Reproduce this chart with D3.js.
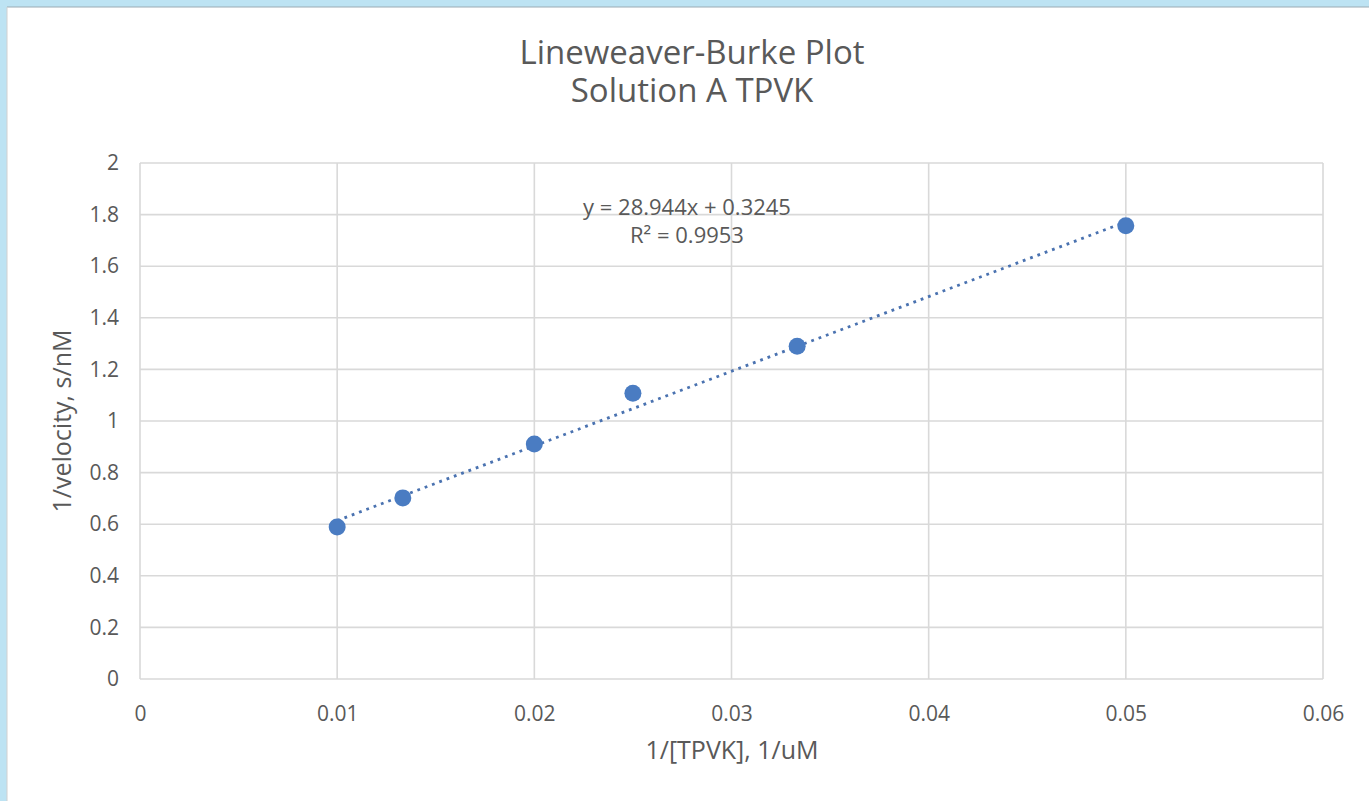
<!DOCTYPE html>
<html>
<head>
<meta charset="utf-8">
<script src="https://cdn.jsdelivr.net/npm/d3@7"></script>
<style>
  html, body { margin: 0; padding: 0; background: #fff; }
  svg { display: block; font-family: "Open Sans", sans-serif; }
</style>
</head>
<body>
<svg id="chart" width="1369" height="801"></svg>
<script>
// data
var xValues = [0.01, 0.01333, 0.02, 0.025, 0.03333, 0.05];
var yValues = [0.589, 0.702, 0.911, 1.108, 1.290, 1.757];
var xTicks = [0, 0.01, 0.02, 0.03, 0.04, 0.05, 0.06];
var yTicks = [0, 0.2, 0.4, 0.6, 0.8, 1, 1.2, 1.4, 1.6, 1.8, 2];
var fitSlope = 28.944;
var fitIntercept = 0.3245;
var fitLabels = ["y = 28.944x + 0.3245", "R² = 0.9953"];
var titleLines = ["Lineweaver-Burke Plot", "Solution A TPVK"];

var svg = d3.select("#chart");
var textColor = "#595959";

// window frame (light blue edge at top and left)
svg.append("rect").attr("x", 0).attr("y", 0).attr("width", 1369).attr("height", 7).attr("fill", "#bde3f3");
svg.append("rect").attr("x", 0).attr("y", 0).attr("width", 7).attr("height", 801).attr("fill", "#bde3f3");
svg.append("line").attr("x1", 7).attr("x2", 1369).attr("y1", 7).attr("y2", 7).attr("stroke", "#9aaab3").attr("stroke-width", 1);
svg.append("line").attr("x1", 7).attr("x2", 7).attr("y1", 7).attr("y2", 801).attr("stroke", "#d0d0d0").attr("stroke-width", 1);

var plotLeft = 140, plotRight = 1323, plotTop = 163, plotBottom = 679;

var x = d3.scaleLinear().domain([0, 0.06]).range([plotLeft, plotRight]);
var y = d3.scaleLinear().domain([0, 2]).range([plotBottom, plotTop]);

// gridlines
svg.append("g").selectAll("line").data(yTicks).enter().append("line")
    .attr("x1", plotLeft).attr("x2", plotRight)
    .attr("y1", function(d) { return y(d); }).attr("y2", function(d) { return y(d); })
    .attr("stroke", "#d9d9d9").attr("stroke-width", 1.6);
svg.append("g").selectAll("line").data(xTicks).enter().append("line")
    .attr("y1", plotTop).attr("y2", plotBottom)
    .attr("x1", function(d) { return x(d); }).attr("x2", function(d) { return x(d); })
    .attr("stroke", "#d9d9d9").attr("stroke-width", 1.6);

// axes (labels only)
var xAxis = svg.append("g").attr("transform", "translate(0," + plotBottom + ")")
    .call(d3.axisBottom(x).tickValues(xTicks).tickSize(0).tickPadding(0)
        .tickFormat(function(d) { return String(+d.toFixed(2)); }));
var yAxis = svg.append("g").attr("transform", "translate(" + (plotLeft - 21) + ",0)")
    .call(d3.axisLeft(y).tickValues(yTicks).tickSize(0).tickPadding(0)
        .tickFormat(function(d) { return String(+d.toFixed(1)); }));
[xAxis, yAxis].forEach(function(a) {
    a.select(".domain").remove();
    a.selectAll("text").attr("fill", textColor).style("font-size", "21px").style("font-family", "'Open Sans', sans-serif");
});
xAxis.selectAll("text").attr("y", 42).attr("dy", "0");

// trendline
var fitX = d3.extent(xValues);
svg.append("line")
    .attr("x1", x(fitX[0])).attr("y1", y(fitSlope * fitX[0] + fitIntercept))
    .attr("x2", x(fitX[1])).attr("y2", y(fitSlope * fitX[1] + fitIntercept))
    .attr("stroke", "#4a72b0").attr("stroke-width", 2.8)
    .attr("stroke-dasharray", "2.8 5");

// points
svg.append("g").selectAll("circle").data(xValues).enter().append("circle")
    .attr("cx", function(d) { return x(d); })
    .attr("cy", function(d, i) { return y(yValues[i]); })
    .attr("r", 8.5)
    .attr("fill", "#4a7cc2");

// equation label
svg.append("g").selectAll("text").data(fitLabels).enter().append("text")
    .attr("x", 687).attr("y", function(d, i) { return 215 + i * 28; })
    .attr("text-anchor", "middle").attr("fill", textColor)
    .style("font-size", "22px")
    .text(function(d) { return d; });

// title
svg.append("g").selectAll("text").data(titleLines).enter().append("text")
    .attr("x", 692).attr("y", function(d, i) { return 64 + i * 38; })
    .attr("text-anchor", "middle").attr("fill", textColor)
    .style("font-size", "33px")
    .text(function(d) { return d; });

// axis titles
svg.append("text").attr("x", 732).attr("y", 759)
    .attr("text-anchor", "middle").attr("fill", textColor)
    .style("font-size", "25px").text("1/[TPVK], 1/uM");
svg.append("text").attr("transform", "translate(71,421) rotate(-90)")
    .attr("text-anchor", "middle").attr("fill", textColor)
    .style("font-size", "25px").text("1/velocity, s/nM");
</script>
</body>
</html>
